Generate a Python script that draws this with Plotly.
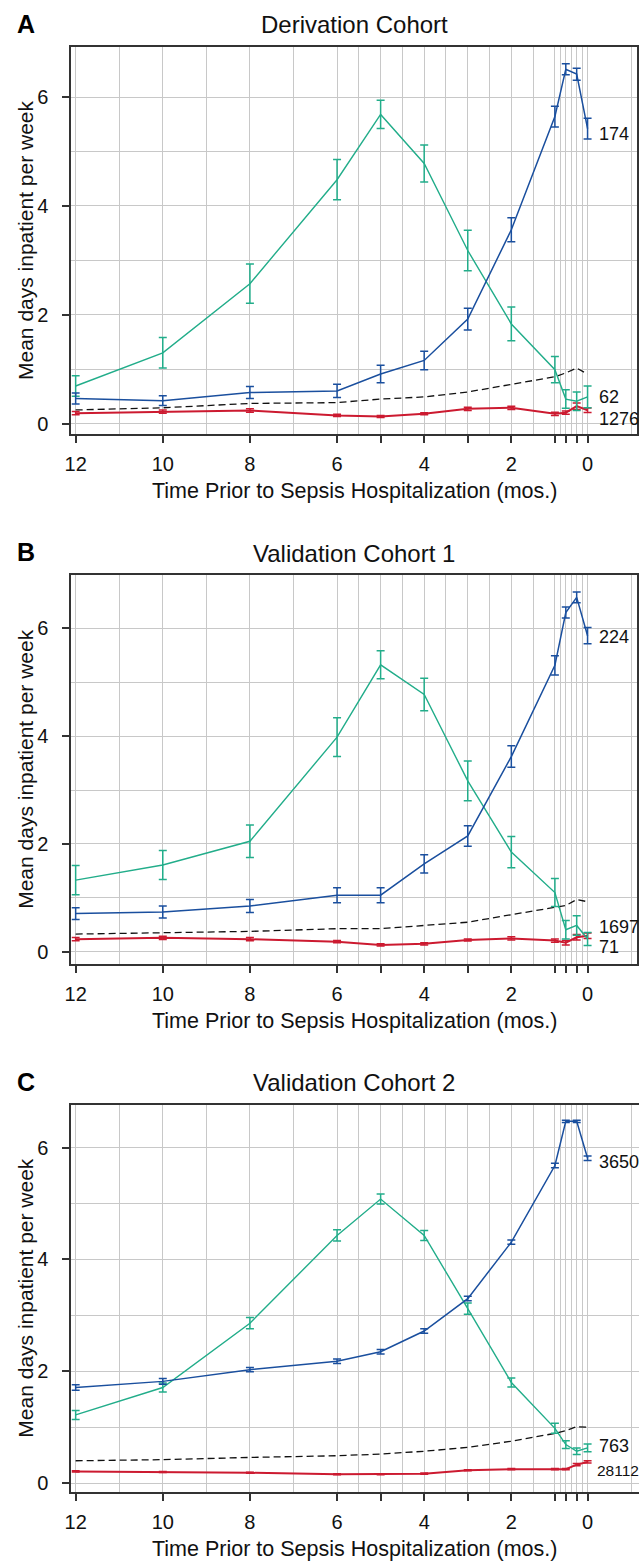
import plotly.graph_objects as go

# months prior to sepsis hospitalization (last four points are weekly)
months = [12, 10, 8, 6, 5, 4, 3, 2, 1, 0.75, 0.5, 0.25]
tick_text = ["12", "10", "8", "6", "", "4", "", "2", "", "", "", "0"]
minor_grid = [11, 9, 7, 5.5, 4.5, 3.5, 2.5, 1.5, 0.875, 0.625, 0.375, -0.75]
y_ticks = [0, 2, 4, 6]

# Panel A - Derivation Cohort
a_green = [0.69, 1.30, 2.57, 4.48, 5.68, 4.78, 3.18, 1.83, 0.99, 0.45, 0.41, 0.49]
a_green_err = [0.19, 0.28, 0.36, 0.37, 0.26, 0.34, 0.37, 0.31, 0.24, 0.17, 0.17, 0.20]
a_blue = [0.46, 0.42, 0.57, 0.60, 0.91, 1.16, 1.92, 3.56, 5.64, 6.51, 6.42, 5.42]
a_blue_err = [0.10, 0.09, 0.11, 0.12, 0.16, 0.17, 0.20, 0.22, 0.19, 0.10, 0.11, 0.19]
a_red = [0.19, 0.22, 0.24, 0.15, 0.13, 0.18, 0.27, 0.29, 0.18, 0.20, 0.32, 0.245]
a_red_err = [0.03, 0.03, 0.03, 0.02, 0.02, 0.02, 0.03, 0.03, 0.03, 0.03, 0.06, 0.04]
a_ctrl = [0.25, 0.29, 0.37, 0.385, 0.45, 0.49, 0.58, 0.72, 0.86, 0.93, 1.02, 0.91]
a_n = {"blue": "174", "green": "62", "red": "1276"}

# Panel B - Validation Cohort 1
b_green = [1.33, 1.61, 2.05, 3.98, 5.32, 4.77, 3.17, 1.85, 1.10, 0.41, 0.49, 0.24]
b_green_err = [0.27, 0.27, 0.30, 0.36, 0.26, 0.30, 0.37, 0.29, 0.26, 0.17, 0.18, 0.12]
b_blue = [0.71, 0.74, 0.85, 1.05, 1.05, 1.63, 2.15, 3.62, 5.31, 6.29, 6.57, 5.86]
b_blue_err = [0.11, 0.11, 0.12, 0.14, 0.14, 0.17, 0.19, 0.20, 0.18, 0.10, 0.10, 0.15]
b_red = [0.235, 0.26, 0.235, 0.19, 0.13, 0.15, 0.22, 0.25, 0.21, 0.17, 0.27, 0.30]
b_red_err = [0.03, 0.03, 0.03, 0.02, 0.02, 0.02, 0.02, 0.03, 0.03, 0.04, 0.05, 0.05]
b_ctrl = [0.33, 0.35, 0.38, 0.43, 0.43, 0.49, 0.55, 0.69, 0.83, 0.86, 0.97, 0.93]
b_n = {"blue": "224", "red": "1697", "green": "71"}

# Panel C - Validation Cohort 2
c_green = [1.22, 1.71, 2.86, 4.43, 5.08, 4.43, 3.12, 1.80, 0.98, 0.69, 0.57, 0.63]
c_green_err = [0.08, 0.08, 0.10, 0.10, 0.09, 0.09, 0.10, 0.08, 0.09, 0.07, 0.06, 0.07]
c_blue = [1.71, 1.82, 2.03, 2.18, 2.35, 2.72, 3.30, 4.31, 5.68, 6.47, 6.47, 5.81]
c_blue_err = [0.05, 0.05, 0.04, 0.04, 0.04, 0.04, 0.04, 0.04, 0.04, 0.02, 0.02, 0.04]
c_red = [0.21, 0.20, 0.185, 0.16, 0.16, 0.17, 0.23, 0.25, 0.25, 0.25, 0.33, 0.38]
c_red_err = [0.01, 0.01, 0.01, 0.01, 0.01, 0.01, 0.01, 0.01, 0.01, 0.01, 0.02, 0.02]
c_ctrl = [0.40, 0.42, 0.46, 0.49, 0.52, 0.57, 0.64, 0.75, 0.89, 0.94, 1.01, 1.00]
c_n = {"blue": "3650", "green": "763", "red": "28112"}

GREEN = "#22ad8a"
BLUE = "#1a4f9e"
RED = "#cc1a30"
GRID = "#c8c8c8"
AXIS = "#333333"
FONT = "Liberation Sans, Arial, sans-serif"
W, H = 639, 1563


def py(px):
    return 1 - px / H


panels = [
    dict(letter="A", title="Derivation Cohort", top=47, bottom=435, yr=[-0.2, 6.92],
         x1=637, mirror=True,
         green=a_green, green_err=a_green_err, blue=a_blue, blue_err=a_blue_err,
         red=a_red, red_err=a_red_err, ctrl=a_ctrl, n=a_n,
         shift={"blue": -5, "green": 0, "red": -9}),
    dict(letter="B", title="Validation Cohort 1", top=576, bottom=965, yr=[-0.22, 6.98],
         x1=637, mirror=True,
         green=b_green, green_err=b_green_err, blue=b_blue, blue_err=b_blue_err,
         red=b_red, red_err=b_red_err, ctrl=b_ctrl, n=b_n,
         shift={"blue": -1, "green": -8, "red": 9}),
    dict(letter="C", title="Validation Cohort 2", top=1106, bottom=1494, yr=[-0.16, 6.77],
         x1=639, mirror=False,
         green=c_green, green_err=c_green_err, blue=c_blue, blue_err=c_blue_err,
         red=c_red, red_err=c_red_err, ctrl=c_ctrl, n=c_n,
         shift={"blue": -4, "green": 2, "red": -9}),
]

fig = go.Figure()
annotations = []
colors = {"green": GREEN, "blue": BLUE, "red": RED}

for i, p in enumerate(panels):
    k = "" if i == 0 else str(i + 1)
    xref, yref = "x" + k, "y" + k
    x_dom = [65 / W, p["x1"] / W]
    x_range = [12.1, -0.885] if p["mirror"] else [12.1, -0.93]

    fig.add_trace(go.Scatter(
        x=months, y=p["ctrl"], mode="lines", xaxis=xref, yaxis=yref,
        line=dict(color="#111111", width=1.3, dash="7px,4px"), hoverinfo="skip",
    ))
    for key, width in [("red", 2), ("green", 1.4), ("blue", 1.5)]:
        fig.add_trace(go.Scatter(
            x=months, y=p[key], mode="lines", xaxis=xref, yaxis=yref,
            line=dict(color=colors[key], width=width),
            error_y=dict(type="data", array=p[key + "_err"], color=colors[key],
                         thickness=1.5, width=4),
        ))
        long_label = len(p["n"][key]) > 4
        annotations.append(dict(
            x=months[-1], y=p[key][-1], xref=xref, yref=yref, text=p["n"][key],
            showarrow=False, xanchor="left", yanchor="middle",
            xshift=7 if long_label else 9, yshift=p["shift"][key],
            font=dict(size=15.5 if long_label else 18, color="#111111", family=FONT),
        ))

    fig.layout["xaxis" + k] = dict(
        domain=x_dom, range=x_range, anchor=yref,
        tickmode="array", tickvals=months, ticktext=tick_text,
        ticks="outside", ticklen=7, tickwidth=1.5, tickcolor=AXIS,
        showgrid=True, gridcolor=GRID, gridwidth=1,
        minor=dict(tickmode="array", tickvals=minor_grid, showgrid=True,
                   gridcolor=GRID, gridwidth=1, ticks=""),
        showline=True, linecolor=AXIS, linewidth=2, mirror=True, zeroline=False,
        tickfont=dict(size=20, color="#111111", family=FONT), ticklabelstandoff=4,
    )
    fig.layout["yaxis" + k] = dict(
        domain=[py(p["bottom"]), py(p["top"])], range=p["yr"], anchor=xref,
        tickmode="array", tickvals=y_ticks,
        ticks="outside", ticklen=7, tickwidth=1.5, tickcolor=AXIS,
        showgrid=True, gridcolor=GRID, gridwidth=1,
        minor=dict(dtick=1, tick0=0, showgrid=True, gridcolor=GRID, gridwidth=1, ticks=""),
        showline=True, linecolor=AXIS, linewidth=2, mirror=p["mirror"], zeroline=False,
        tickfont=dict(size=20, color="#111111", family=FONT), ticklabelstandoff=10,
    )

    x_mid = (65 + 637) / 2 / W
    annotations += [
        dict(x=19 / W, y=py(p["top"] - 23), xref="paper", yref="paper", text="<b>" + p["letter"] + "</b>",
             showarrow=False, xanchor="center", yanchor="middle",
             font=dict(size=25, color="#000000", family=FONT)),
        dict(x=x_mid, y=py(p["top"] - 22), xref="paper", yref="paper", text=p["title"],
             showarrow=False, xanchor="center", yanchor="middle",
             font=dict(size=24, color="#111111", family=FONT)),
        dict(x=x_mid, y=py(p["bottom"] + 57), xref="paper", yref="paper",
             text="Time Prior to Sepsis Hospitalization (mos.)",
             showarrow=False, xanchor="center", yanchor="middle",
             font=dict(size=21.5, color="#111111", family=FONT)),
        dict(x=18.5 / W, y=py((p["top"] + p["bottom"]) / 2), xref="paper", yref="paper",
             text="Mean days inpatient per week", textangle=-90,
             showarrow=False, xanchor="center", yanchor="middle",
             font=dict(size=21, color="#111111", family=FONT)),
    ]

fig.update_layout(
    width=W, height=H,
    margin=dict(l=0, r=0, t=0, b=0),
    paper_bgcolor="white", plot_bgcolor="white",
    showlegend=False,
    annotations=annotations,
    font=dict(family=FONT),
)

# drop the default page margin so the figure sits at the window's corner
fig.write_html(
    "out.html",
    config={"displayModeBar": False},
    post_script="document.body.style.margin='0';document.body.style.overflow='hidden';",
)
